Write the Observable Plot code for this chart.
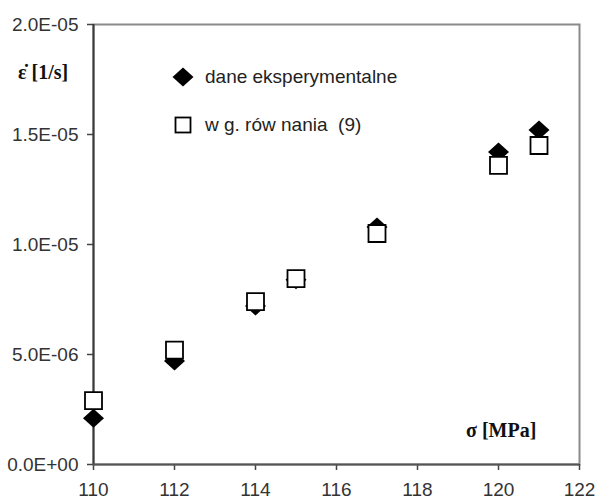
<!DOCTYPE html>
<html>
<head>
<meta charset="utf-8">
<script src="https://cdn.jsdelivr.net/npm/d3@7"></script>
<script src="https://cdn.jsdelivr.net/npm/@observablehq/plot@0.6"></script>
<style>
  html, body { margin: 0; padding: 0; background: #fff; }
  #chart { position: relative; width: 597px; height: 500px; }
  .title { position: absolute; font-family: "Liberation Serif", "Times New Roman", serif; font-weight: bold; font-size: 20px; color: #111; white-space: pre; line-height: 1; }
  .legend { position: absolute; left: 170px; top: 64px; font-family: "Liberation Sans", Arial, sans-serif; font-size: 19px; color: #222; }
  .legend .row { display: flex; align-items: center; height: 26px; white-space: pre; }
  .legend .row + .row { margin-top: 22px; }
  .legend svg { width: 26px; height: 26px; margin-right: 9px; }
</style>
</head>
<body>
<div id="chart"></div>
<script>
// Stress (MPa) against creep strain rate (1/s)
const sigma = [110, 112, 114, 115, 117, 120, 121];
const rateExperimental = [2.1e-6, 4.7e-6, 7.2e-6, 8.4e-6, 10.8e-6, 14.2e-6, 15.2e-6];
const rateEquation9 = [2.9e-6, 5.2e-6, 7.4e-6, 8.45e-6, 10.5e-6, 13.6e-6, 14.5e-6];
const xTicks = [110, 112, 114, 116, 118, 120, 122];
const yTicks = [0, 5e-6, 1e-5, 1.5e-5, 2e-5];

const experimental = sigma.map((s, i) => ({sigma: s, rate: rateExperimental[i]}));
const equation9 = sigma.map((s, i) => ({sigma: s, rate: rateEquation9[i]}));

// "2.0E-05" style labels
function sci(v) {
  const [m, e] = v.toExponential(1).split("e");
  const n = +e;
  return m + "E" + (n < 0 ? "-" : "+") + String(Math.abs(n)).padStart(2, "0");
}

// Slightly wide filled diamond and plain square, sized from r
const wideDiamond = {
  draw(ctx, size) {
    const r = Math.sqrt(size / Math.PI);
    const w = r * 1.05, h = r * 0.95;
    ctx.moveTo(0, -h); ctx.lineTo(w, 0); ctx.lineTo(0, h); ctx.lineTo(-w, 0); ctx.closePath();
  }
};
const plainSquare = {
  draw(ctx, size) {
    const r = Math.sqrt(size / Math.PI);
    ctx.moveTo(-r, -r); ctx.lineTo(r, -r); ctx.lineTo(r, r); ctx.lineTo(-r, r); ctx.closePath();
  }
};

const chart = Plot.plot({
  width: 597,
  height: 500,
  marginLeft: 93,
  marginRight: 18,
  marginTop: 24,
  marginBottom: 36,
  style: {fontFamily: "'Liberation Sans', Arial, sans-serif", fontSize: "19px", color: "#333", background: "#fff"},
  x: {domain: [110, 122]},
  y: {domain: [0, 2e-5]},
  marks: [
    Plot.frame({stroke: "#8a8a8a", strokeWidth: 2}),
    Plot.axisX({ticks: xTicks, tickSize: 6, tickPadding: 12, label: null, stroke: "#444", strokeWidth: 1.5}),
    Plot.axisY({ticks: yTicks, tickFormat: sci, tickSize: 6, tickPadding: 9, label: null, stroke: "#444", strokeWidth: 1.5}),
    Plot.ruleX([110], {stroke: "#3a3a3a", strokeWidth: 2}),
    Plot.ruleY([0], {stroke: "#555", strokeWidth: 2}),
    Plot.dot(experimental, {x: "sigma", y: "rate", symbol: wideDiamond, r: 10, fill: "#000", stroke: "none"}),
    Plot.dot(equation9, {x: "sigma", y: "rate", symbol: plainSquare, r: 8.5, fill: "#fff", stroke: "#000", strokeWidth: 1.8})
  ]
});

const root = document.getElementById("chart");
root.appendChild(chart);

// Axis titles
const yTitle = document.createElement("div");
yTitle.className = "title";
yTitle.style.left = "18px";
yTitle.style.top = "62px";
yTitle.textContent = "\u03B5\u0307 [1/s]";
root.appendChild(yTitle);

const xTitle = document.createElement("div");
xTitle.className = "title";
xTitle.style.left = "466px";
xTitle.style.top = "420px";
xTitle.textContent = "\u03C3 [MPa]";
root.appendChild(xTitle);

// Legend
const legend = document.createElement("div");
legend.className = "legend";
legend.innerHTML = `
  <div class="row"><svg viewBox="-13 -13 26 26"><path d="M0,-9.5L10.5,0L0,9.5L-10.5,0Z" fill="#000"/></svg><span>dane eksperymentalne</span></div>
  <div class="row"><svg viewBox="-13 -13 26 26"><rect x="-7.5" y="-7.5" width="15" height="15" fill="#fff" stroke="#000" stroke-width="1.8"/></svg><span>w g. rów nania  (9)</span></div>`;
root.appendChild(legend);
</script>
</body>
</html>
